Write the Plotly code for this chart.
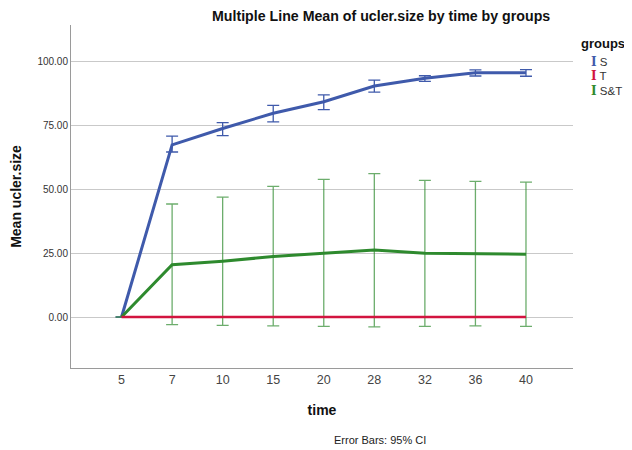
import plotly.graph_objects as go

time_labels = ["5", "7", "10", "15", "20", "28", "32", "36", "40"]

s_mean = [0, 67.5, 73.9, 79.9, 84.4, 90.6, 93.6, 95.8, 95.8]
s_upper = [0, 70.9, 76.2, 83.0, 87.1, 92.9, 94.6, 96.9, 97.0]
s_lower = [0, 64.7, 71.1, 76.5, 81.3, 88.2, 92.4, 94.5, 94.4]

t_mean = [0, 0, 0, 0, 0, 0, 0, 0, 0]

st_mean = [0, 20.5, 21.9, 23.7, 25.0, 26.3, 25.0, 24.7, 24.6]
st_upper = [0, 44.3, 47.0, 51.2, 54.0, 56.2, 53.6, 53.2, 52.9]
st_lower = [0, -3.0, -3.3, -3.5, -3.7, -3.9, -3.7, -3.5, -3.7]

y_ticks = [0, 25, 50, 75, 100]
y_tick_labels = ["0.00", "25.00", "50.00", "75.00", "100.00"]

BLUE = "#3F5AAB"
RED = "#D2143F"
GREEN = "#2E8A2E"
FONT = "Liberation Sans, Arial, sans-serif"

fig = go.Figure()

def add_series(name, mean, upper, lower, color, width, ecolor, ethick):
    err = None
    if upper is not None:
        err = dict(type="data", symmetric=False,
                   array=[u - m for u, m in zip(upper, mean)],
                   arrayminus=[m - l for m, l in zip(mean, lower)],
                   color=ecolor, thickness=ethick, width=6)
    fig.add_trace(go.Scatter(x=time_labels, y=mean, mode="lines", name=name,
                             line=dict(color=color, width=width),
                             error_y=err, showlegend=False))

add_series("S", s_mean, s_upper, s_lower, BLUE, 3, BLUE, 1.3)
add_series("S&T", st_mean, st_upper, st_lower, GREEN, 3, "rgba(46,138,46,0.7)", 1.3)
add_series("T", t_mean, None, None, RED, 2.5, RED, 1)

fig.update_layout(
    width=624, height=442,
    margin=dict(l=63, r=59, t=17, b=82),
    plot_bgcolor="white", paper_bgcolor="white",
    font=dict(family=FONT, color="#222"),
    xaxis=dict(type="category", range=[-1, 8.93], showgrid=False,
               showline=True, linecolor="#9a9a9a", linewidth=1,
               ticks="", tickfont=dict(size=12.5, color="#444"),
               title=dict(text="<b>time</b>", font=dict(size=14, color="#111"), standoff=19),
               zeroline=False, automargin=False),
    yaxis=dict(range=[-20, 114.5], tickvals=y_ticks, ticktext=y_tick_labels,
               showgrid=True, gridcolor="#c9c9c9", gridwidth=1,
               showline=True, linecolor="#9a9a9a", linewidth=1,
               ticks="", tickfont=dict(size=10, color="#333"),
               title=dict(text="<b>Mean ucler.size</b>", font=dict(size=14, color="#111"), standoff=12),
               zeroline=False, automargin=False),
)

fig.add_annotation(text="<b>Multiple Line Mean of ucler.size by time by groups</b>",
                   xref="paper", yref="paper", x=0.6175, y=1.0, yshift=9,
                   xanchor="center", yanchor="middle", showarrow=False,
                   font=dict(size=14.2, color="#111"))

fig.add_annotation(text="Error Bars: 95% CI", xref="paper", yref="paper",
                   x=0.6155, y=-0.21, xanchor="center", yanchor="middle",
                   showarrow=False, font=dict(size=11, color="#222"))

fig.add_annotation(text="<b>groups</b>", xref="paper", yref="paper",
                   x=1.011, y=0.9475, xanchor="left", yanchor="middle",
                   showarrow=False, font=dict(size=13, color="#111"))
legend_items = [("S", BLUE), ("T", RED), ("S&T", GREEN)]
legend_y = [0.892, 0.850, 0.808]
for (nm, col), yy in zip(legend_items, legend_y):
    fig.add_annotation(text=f"<span style='color:{col};font-family:DejaVu Serif;font-size:12px'><b>I</b></span> {nm}",
                       xref="paper", yref="paper", x=1.032, y=yy,
                       xanchor="left", yanchor="middle", showarrow=False,
                       font=dict(size=11.5, color="#333"))

fig.write_html("out.html")
